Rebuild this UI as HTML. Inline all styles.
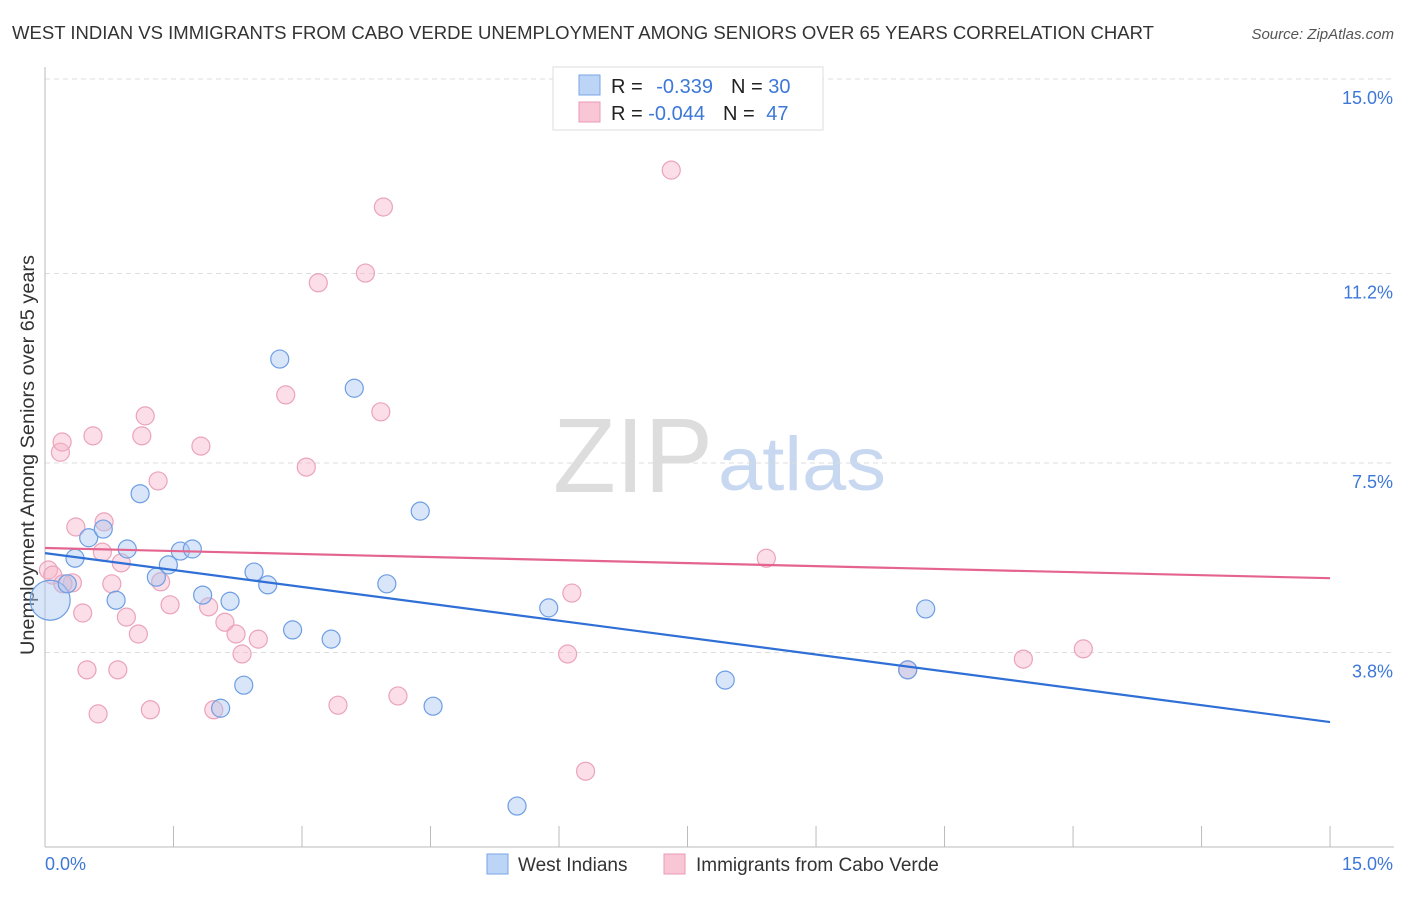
<!DOCTYPE html>
<html><head><meta charset="utf-8"><style>
body{margin:0;background:#fff;font-family:"Liberation Sans",sans-serif;}
svg text{font-family:"Liberation Sans",sans-serif;}
</style></head><body>
<svg id="chart" width="1406" height="892">
<text x="12" y="39" font-size="18.5" fill="#333" textLength="1142" lengthAdjust="spacingAndGlyphs">WEST INDIAN VS IMMIGRANTS FROM CABO VERDE UNEMPLOYMENT AMONG SENIORS OVER 65 YEARS CORRELATION CHART</text>
<text x="1394" y="39" font-size="15" fill="#555" font-style="italic" text-anchor="end">Source: ZipAtlas.com</text>
<text x="34" y="655" font-size="19" fill="#333" textLength="400" lengthAdjust="spacingAndGlyphs" transform="rotate(-90 34 655)">Unemployment Among Seniors over 65 years</text>
<text x="553" y="492" font-size="106" fill="#ddd" font-family="Liberation Serif" textLength="160" lengthAdjust="spacingAndGlyphs">ZIP</text>
<text x="718" y="490" font-size="76" fill="#c8d8f0" textLength="168" lengthAdjust="spacingAndGlyphs">atlas</text>
<g id="grid"></g><g id="marks"></g>
<g>
<rect x="553" y="67" width="270" height="63" fill="#fff" stroke="#ddd"/>
<rect x="579" y="75" width="21" height="20" fill="#bcd4f5" stroke="#7aa6e6"/>
<rect x="579" y="102" width="21" height="20" fill="#f9c6d6" stroke="#eb9ab4"/>
<text x="611" y="93" font-size="20" fill="#222">R = <tspan fill="#3d78d8" dx="8">-0.339</tspan><tspan fill="#222" dx="18">N = </tspan><tspan fill="#3d78d8">30</tspan></text>
<text x="611" y="120" font-size="20" fill="#222">R = <tspan fill="#3d78d8">-0.044</tspan><tspan fill="#222" dx="18">N = </tspan><tspan fill="#3d78d8" dx="6">47</tspan></text>
</g>
<g>
<rect x="487" y="854" width="21" height="20" fill="#bcd4f5" stroke="#7aa6e6"/>
<text x="518" y="871" font-size="19" fill="#333">West Indians</text>
<rect x="664" y="854" width="21" height="20" fill="#f9c6d6" stroke="#eb9ab4"/>
<text x="696" y="871" font-size="19" fill="#333">Immigrants from Cabo Verde</text>
</g>
</svg>
<script>
const yTicks=[15.0,11.2,7.5,3.8];
const yTickLabels=["15.0%","11.2%","7.5%","3.8%"];
const xEnds=["0.0%","15.0%"];
const blueX=[0.06,0.26,0.35,0.51,0.68,0.83,0.96,1.11,1.30,1.44,1.58,1.72,1.84,2.05,2.16,2.32,2.44,2.60,2.74,2.89,3.34,3.61,3.99,4.38,4.53,5.51,5.88,7.94,10.07,10.28];
const blueY=[4.82,5.14,5.64,6.04,6.21,4.82,5.82,6.90,5.27,5.51,5.78,5.82,4.92,2.71,4.80,3.16,5.37,5.12,9.53,4.24,4.06,8.96,5.14,6.56,2.75,0.80,4.67,3.26,3.46,4.65];
const blueSize=[20,9,9,9,9,9,9,9,9,9,9,9,9,9,9,9,9,9,9,9,9,9,9,9,9,9,9,9,9,9];
const pinkX=[0.04,0.09,0.18,0.20,0.32,0.36,0.44,0.49,0.56,0.62,0.67,0.69,0.78,0.85,0.89,0.95,1.09,1.13,1.17,1.23,1.32,1.35,1.46,1.82,1.91,1.97,2.10,2.23,2.30,2.49,2.81,3.05,3.19,3.42,3.74,3.92,3.95,4.12,6.10,6.15,6.31,7.31,8.42,10.07,11.42,12.12,0.21];
const pinkY=[5.41,5.31,7.71,7.91,5.16,6.25,4.57,3.46,8.03,2.60,5.76,6.35,5.14,3.46,5.55,4.49,4.16,8.03,8.42,2.68,7.15,5.18,4.73,7.83,4.69,2.68,4.39,4.16,3.77,4.06,8.83,7.42,11.02,2.77,11.21,8.50,12.50,2.95,3.77,4.96,1.48,13.22,5.64,3.46,3.67,3.87,5.14];
const blueLine=[5.74,2.44];
const pinkLine=[5.84,5.25];
const X=v=>45+v*85.67, Y=v=>847-v*51.2;
const NS="http://www.w3.org/2000/svg";
function mk(t,a,p){const e=document.createElementNS(NS,t);for(const k in a)e.setAttribute(k,a[k]);p.appendChild(e);return e;}
const grid=document.getElementById('grid'),marks=document.getElementById('marks');
yTicks.forEach((v,i)=>{
 const l=mk('line',{x1:45,x2:1394,y1:Y(v),y2:Y(v),stroke:'#ddd','stroke-dasharray':'5,4'},grid);
 
 
 const t=mk('text',{x:1393,y:Y(v)+25,'font-size':18,fill:'#3d78d8','text-anchor':'end'},grid);t.textContent=yTickLabels[i];
 
 
});
mk('line',{x1:45,x2:45,y1:67,y2:847,stroke:'#bbb'},grid);
mk('line',{x1:45,x2:1394,y1:847,y2:847,stroke:'#bbb'},grid);
for(let i=1;i<=10;i++){const l=mk('line',{x1:X(i*1.5),x2:X(i*1.5),y1:826,y2:847,stroke:'#bbb'},grid);
 
 }
[[0,'start',45],[1,'end',1393]].forEach(([i,a,x])=>{const t=mk('text',{x:x,y:870,'font-size':18,fill:'#3d78d8','text-anchor':a},grid);t.textContent=xEnds[i];
 
 });
pinkX.forEach((x,i)=>{const c=mk('circle',{cx:X(x),cy:Y(pinkY[i]),r:9,fill:'rgba(246,182,202,0.45)',stroke:'#eba3bb','stroke-width':1.2},marks);
 
 });
blueX.forEach((x,i)=>{const c=mk('circle',{cx:X(x),cy:Y(blueY[i]),r:blueSize[i],fill:'rgba(170,198,240,0.45)',stroke:'#6d9ee3','stroke-width':1.2},marks);
 
 });
const bl=mk('line',{x1:X(0),y1:Y(blueLine[0]),x2:X(15),y2:Y(blueLine[1]),stroke:'#2f6fd6','stroke-width':2.2},marks);


const pl=mk('line',{x1:X(0),y1:Y(pinkLine[0]),x2:X(15),y2:Y(pinkLine[1]),stroke:'#e4648f','stroke-width':2.2},marks);


</script>
</body></html>
